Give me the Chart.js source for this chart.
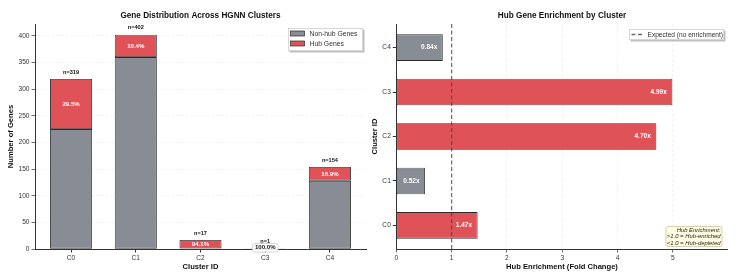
<!DOCTYPE html>
<html>
<head>
<meta charset="utf-8">
<script src="https://cdn.jsdelivr.net/npm/chart.js@4.4.1/dist/chart.umd.min.js"></script>
<style>
  html, body { margin: 0; padding: 0; background: #ffffff; }
  #wrap { position: relative; width: 737px; height: 276px; overflow: hidden; }
  #left { position: absolute; left: 0; top: 0; }
  #right { position: absolute; left: 370px; top: 0; }
</style>
</head>
<body>
<div id="wrap">
  <canvas id="left" width="370" height="276"></canvas>
  <canvas id="right" width="367" height="276"></canvas>
</div>
<script>
// ---------------- DATA ----------------
const categories = ['C0', 'C1', 'C2', 'C3', 'C4'];
const totalGenes = [319, 402, 17, 1, 154];
const hubGenes = [94, 42, 16, 1, 26];
const nonHubGenes = [225, 360, 1, 0, 128];
const hubPercent = [29.5, 10.4, 94.1, 100.0, 16.9];
const enrichment = [1.47, 0.52, 4.70, 4.99, 0.84];
const expectedRatio = 1;
const countTicks = [0, 50, 100, 150, 200, 250, 300, 350, 400];
const foldTicks = [0, 1, 2, 3, 4, 5];
const annotationLines = ['Hub Enrichment:', '>1.0 = Hub-enriched', '<1.0 = Hub-depleted'];

// ---------------- STYLE ----------------
const FONT = "'Liberation Sans', Arial, Helvetica, sans-serif";
const GRAY = 'rgb(136,141,149)';
const RED = 'rgb(223,82,87)';
const EDGE = '#2b2b2b';
const AXIS = '#333333';
const GRID = 'rgba(0,0,0,0.07)';
Chart.defaults.font.family = FONT;
Chart.defaults.color = '#333';
Chart.defaults.animation = false;

function drawLegendBox(ctx, x, y, w, h) {
  ctx.save();
  ctx.fillStyle = 'rgba(0,0,0,0.25)';
  ctx.fillRect(x + 1.5, y + 1.5, w, h);
  ctx.fillStyle = '#ffffff';
  ctx.fillRect(x, y, w, h);
  ctx.strokeStyle = '#cccccc';
  ctx.lineWidth = 0.8;
  ctx.strokeRect(x + 0.5, y + 0.5, w - 1, h - 1);
  ctx.restore();
}

function roundRect(ctx, x, y, w, h, r) {
  ctx.beginPath();
  ctx.moveTo(x + r, y);
  ctx.lineTo(x + w - r, y);
  ctx.quadraticCurveTo(x + w, y, x + w, y + r);
  ctx.lineTo(x + w, y + h - r);
  ctx.quadraticCurveTo(x + w, y + h, x + w - r, y + h);
  ctx.lineTo(x + r, y + h);
  ctx.quadraticCurveTo(x, y + h, x, y + h - r);
  ctx.lineTo(x, y + r);
  ctx.quadraticCurveTo(x, y, x + r, y);
  ctx.closePath();
}

// ---------------- LEFT CHART ----------------
const leftLabels = {
  id: 'leftLabels',
  afterDatasetsDraw(chart) {
    const ctx = chart.ctx;
    const xs = chart.scales.x, ys = chart.scales.y;
    ctx.save();
    ctx.textAlign = 'center';
    ctx.textBaseline = 'middle';
    categories.forEach((c, i) => {
      const px = xs.getPixelForValue(i);
      const midY = ys.getPixelForValue(nonHubGenes[i] + hubGenes[i] / 2);
      const txt = hubPercent[i].toFixed(1) + '%';
      ctx.font = 'bold 6.1px ' + FONT;
      if (hubGenes[i] >= 5) {
        ctx.fillStyle = '#ffffff';
        ctx.fillText(txt, px, midY);
      } else {
        const w = ctx.measureText(txt).width + 5;
        ctx.fillStyle = 'rgba(255,255,255,0.9)';
        ctx.strokeStyle = '#bbbbbb';
        ctx.lineWidth = 0.6;
        roundRect(ctx, px - w / 2, midY - 5.2, w, 8.5, 2.5);
        ctx.fill();
        ctx.stroke();
        ctx.fillStyle = '#111';
        ctx.fillText(txt, px, midY - 1.2);
      }
      ctx.font = 'bold 5.6px ' + FONT;
      ctx.fillStyle = '#111';
      ctx.fillText('n=' + totalGenes[i], px, ys.getPixelForValue(totalGenes[i]) - 6.8);
    });
    const ca = chart.chartArea;
    ctx.font = 'bold 8.2px ' + FONT;
    ctx.fillStyle = '#111';
    ctx.fillText('Gene Distribution Across HGNN Clusters', (ca.left + ca.right) / 2, 15.7);
    const lx = 288, ly = 28, lw = 75, lh = 23;
    drawLegendBox(ctx, lx, ly, lw, lh);
    const items = [{ t: 'Non-hub Genes', c: GRAY }, { t: 'Hub Genes', c: RED }];
    ctx.textAlign = 'left';
    ctx.font = '6.8px ' + FONT;
    items.forEach((it, k) => {
      const yy = ly + 5.5 + k * 10;
      ctx.fillStyle = it.c;
      ctx.fillRect(lx + 2.5, yy - 2.5, 14, 5);
      ctx.strokeStyle = EDGE;
      ctx.lineWidth = 0.7;
      ctx.strokeRect(lx + 2.5, yy - 2.5, 14, 5);
      ctx.fillStyle = '#333';
      ctx.fillText(it.t, lx + 21.5, yy + 0.3);
    });
    ctx.restore();
  }
};

new Chart(document.getElementById('left'), {
  type: 'bar',
  data: {
    datasets: [
      {
        label: 'Non-hub Genes',
        data: categories.map((c, i) => ({ x: i, y: nonHubGenes[i] })),
        backgroundColor: GRAY,
        borderColor: EDGE,
        borderWidth: 0.9,
        borderSkipped: false,
        barPercentage: 0.65,
        categoryPercentage: 1
      },
      {
        label: 'Hub Genes',
        data: categories.map((c, i) => ({ x: i, y: hubGenes[i] })),
        backgroundColor: RED,
        borderColor: EDGE,
        borderWidth: 0.9,
        borderSkipped: false,
        barPercentage: 0.65,
        categoryPercentage: 1
      }
    ]
  },
  options: {
    responsive: false,
    maintainAspectRatio: false,
    layout: { padding: { top: 24, right: 4, left: 0, bottom: 0 } },
    plugins: { legend: { display: false }, tooltip: { enabled: false } },
    scales: {
      x: {
        type: 'linear',
        offset: false,
        stacked: true,
        min: -0.5575,
        max: 4.5575,
        afterBuildTicks: (s) => { s.ticks = categories.map((c, i) => ({ value: i })); },
        afterFit: (s) => { s.height = 27; },
        ticks: { callback: (v) => categories[v], font: { size: 6.6 }, color: '#333', padding: 2, maxRotation: 0 },
        grid: { drawOnChartArea: false, drawTicks: true, tickLength: 3.5, tickColor: AXIS, offset: false },
        border: { display: true, color: AXIS, width: 1 },
        title: { display: true, text: 'Cluster ID', font: { size: 7.6, weight: 'bold' }, color: '#111', padding: { top: 0, bottom: 5 } }
      },
      y: {
        stacked: true,
        min: 0,
        max: 422,
        afterBuildTicks: (s) => { s.ticks = countTicks.map(v => ({ value: v })); },
        afterFit: (s) => { s.width = 35; },
        ticks: { font: { size: 6.6 }, color: '#333', padding: 2 },
        grid: { drawOnChartArea: true, color: GRID, lineWidth: 0.7, drawTicks: true, tickLength: 3.5, tickColor: AXIS },
        border: { display: true, color: AXIS, width: 1, dash: [3, 2] },
        title: { display: true, text: 'Number of Genes', font: { size: 7.6, weight: 'bold' }, color: '#111', padding: { top: 6.5, bottom: 0 } }
      }
    }
  },
  plugins: [leftLabels]
});

// ---------------- RIGHT CHART ----------------
const rightLabels = {
  id: 'rightLabels',
  afterDatasetsDraw(chart) {
    const ctx = chart.ctx;
    const xs = chart.scales.x, ys = chart.scales.y;
    const ca = chart.chartArea;
    ctx.save();
    const px = xs.getPixelForValue(expectedRatio);
    ctx.strokeStyle = 'rgba(70,70,70,0.75)';
    ctx.lineWidth = 1.3;
    ctx.setLineDash([4, 2.5]);
    ctx.beginPath();
    ctx.moveTo(px, ca.top);
    ctx.lineTo(px, ca.bottom);
    ctx.stroke();
    ctx.setLineDash([]);
    ctx.font = 'bold 6.5px ' + FONT;
    ctx.fillStyle = '#ffffff';
    ctx.textAlign = 'right';
    ctx.textBaseline = 'middle';
    categories.forEach((c, i) => {
      ctx.fillText(enrichment[i].toFixed(2) + 'x', xs.getPixelForValue(enrichment[i] - 0.1), ys.getPixelForValue(i));
    });
    ctx.textAlign = 'center';
    ctx.font = 'bold 8.2px ' + FONT;
    ctx.fillStyle = '#111';
    ctx.fillText('Hub Gene Enrichment by Cluster', (ca.left + ca.right) / 2, 15.7);
    const lx = 259, ly = 29, lw = 95, lh = 11;
    drawLegendBox(ctx, lx, ly, lw, lh);
    ctx.strokeStyle = 'rgba(70,70,70,0.8)';
    ctx.lineWidth = 1.3;
    ctx.setLineDash([4, 2.5]);
    ctx.beginPath();
    ctx.moveTo(lx + 2.5, ly + 5.5);
    ctx.lineTo(lx + 15, ly + 5.5);
    ctx.stroke();
    ctx.setLineDash([]);
    ctx.textAlign = 'left';
    ctx.font = '6.6px ' + FONT;
    ctx.fillStyle = '#333';
    ctx.fillText('Expected (no enrichment)', lx + 18.5, ly + 5.8);
    const bx = 296, by = 226.5, bw = 56, bh = 20;
    ctx.fillStyle = 'rgb(255,253,225)';
    ctx.strokeStyle = 'rgb(200,190,140)';
    ctx.lineWidth = 0.7;
    roundRect(ctx, bx, by, bw, bh, 2);
    ctx.fill();
    ctx.stroke();
    ctx.fillStyle = '#222';
    ctx.textAlign = 'right';
    ctx.font = 'italic 5.9px ' + FONT;
    annotationLines.forEach((t, k) => {
      ctx.fillText(t, bx + bw - 1.5, by + 3.6 + k * 6.4);
    });
    ctx.restore();
  }
};

new Chart(document.getElementById('right'), {
  type: 'bar',
  data: {
    datasets: [{
      label: 'Hub Enrichment',
      data: categories.map((c, i) => ({ x: enrichment[i], y: i })),
      backgroundColor: enrichment.map(v => v > expectedRatio ? RED : GRAY),
      borderColor: EDGE,
      borderWidth: 0.9,
      borderSkipped: false,
      barPercentage: 0.6,
      categoryPercentage: 1
    }]
  },
  options: {
    indexAxis: 'y',
    responsive: false,
    maintainAspectRatio: false,
    layout: { padding: { top: 24, right: 9.3, left: 0, bottom: 0 } },
    plugins: { legend: { display: false }, tooltip: { enabled: false } },
    scales: {
      x: {
        type: 'linear',
        min: 0,
        max: 5.99,
        afterBuildTicks: (s) => { s.ticks = foldTicks.map(v => ({ value: v })); },
        afterFit: (s) => { s.height = 27; },
        ticks: { font: { size: 6.6 }, color: '#333', padding: 2, maxRotation: 0 },
        grid: { drawOnChartArea: true, color: GRID, lineWidth: 0.7, drawTicks: true, tickLength: 3.5, tickColor: AXIS },
        border: { display: true, color: AXIS, width: 1, dash: [3, 2] },
        title: { display: true, text: 'Hub Enrichment (Fold Change)', font: { size: 7.6, weight: 'bold' }, color: '#111', padding: { top: 0, bottom: 5 } }
      },
      y: {
        type: 'linear',
        offset: false,
        min: -0.53,
        max: 4.53,
        afterBuildTicks: (s) => { s.ticks = categories.map((c, i) => ({ value: i })); },
        afterFit: (s) => { s.width = 26.3; },
        ticks: { callback: (v) => categories[v], font: { size: 6.6 }, color: '#333', padding: 2 },
        grid: { drawOnChartArea: false, drawTicks: true, tickLength: 3.5, tickColor: AXIS, offset: false },
        border: { display: true, color: AXIS, width: 1 },
        title: { display: true, text: 'Cluster ID', font: { size: 7.6, weight: 'bold' }, color: '#111', padding: { top: 0.5, bottom: 0 } }
      }
    }
  },
  plugins: [rightLabels]
});
</script>
</body>
</html>
